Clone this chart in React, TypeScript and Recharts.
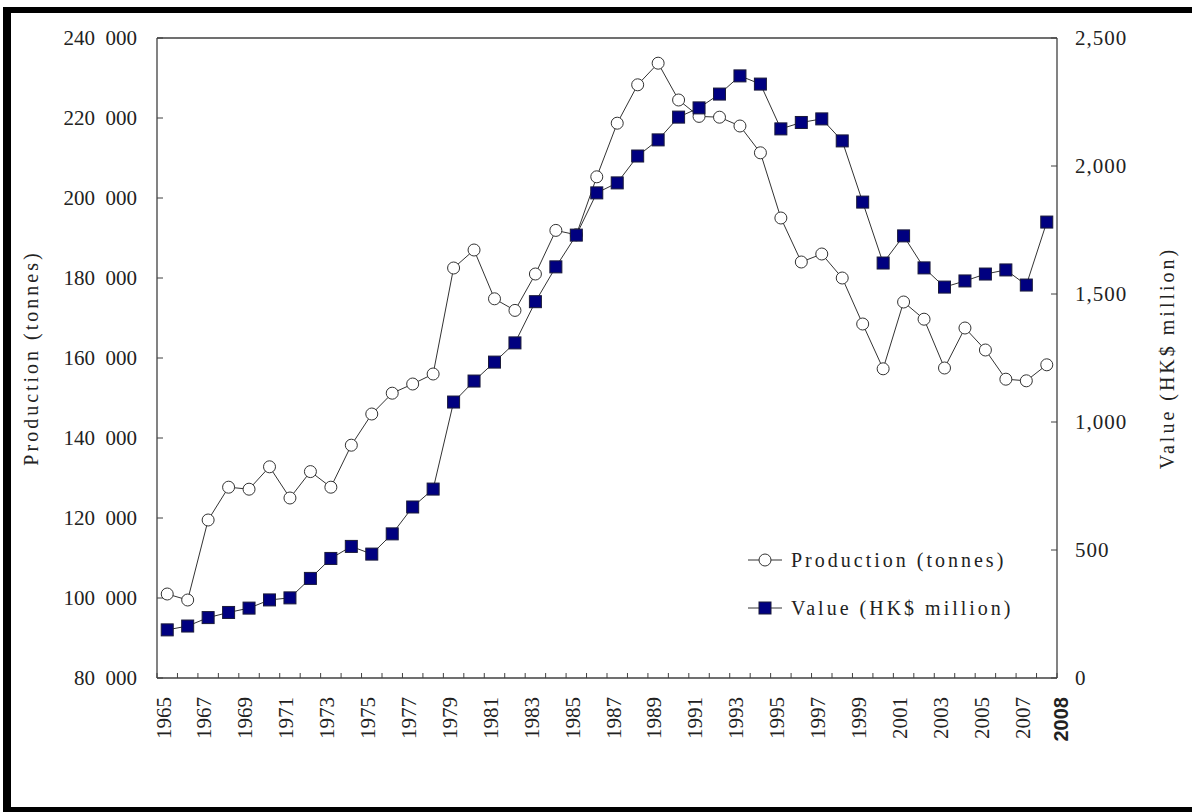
import React from 'react';
import { LineChart, Line, XAxis, YAxis, ReferenceLine } from 'recharts';

// Hong Kong fisheries: production and value, 1965-2008
const years = [
  1965, 1966, 1967, 1968, 1969, 1970, 1971, 1972, 1973, 1974,
  1975, 1976, 1977, 1978, 1979, 1980, 1981, 1982, 1983, 1984,
  1985, 1986, 1987, 1988, 1989, 1990, 1991, 1992, 1993, 1994,
  1995, 1996, 1997, 1998, 1999, 2000, 2001, 2002, 2003, 2004,
  2005, 2006, 2007, 2008,
];

// tonnes
const production = [
  101000, 99500, 119500, 127700, 127200, 132800, 125000, 131600, 127700, 138200,
  146000, 151200, 153500, 156000, 182500, 187000, 174800, 171900, 181000, 191900,
  190800, 205300, 218700, 228300, 233700, 224500, 220400, 220200, 218000, 211300,
  195000, 184000, 186000, 180000, 168500, 157300, 174000, 169700, 157500, 167500,
  162000, 154700, 154300, 158300,
];

// HK$ million
const value = [
  188, 203, 236, 256, 273, 305, 313, 389, 467, 514,
  484, 563, 668, 738, 1078, 1160, 1234, 1309, 1470, 1606,
  1730, 1895, 1934, 2039, 2102, 2191, 2227, 2281, 2352, 2320,
  2145, 2170, 2184, 2098, 1859, 1621, 1727, 1602, 1527, 1551,
  1578, 1594, 1535, 1781,
];

const labelYears = [
  1965, 1967, 1969, 1971, 1973, 1975, 1977, 1979, 1981, 1983, 1985,
  1987, 1989, 1991, 1993, 1995, 1997, 1999, 2001, 2003, 2005, 2007, 2008,
];
const leftTicks = [80000, 100000, 120000, 140000, 160000, 180000, 200000, 220000, 240000];
const rightTicks = [0, 500, 1000, 1500, 2000, 2500];

const data = years.map((year, i) => ({ year, production: production[i], value: value[i] }));

// category boundaries get the small inward tick marks
const boundaries = [...years.map((y) => y - 0.5), years[years.length - 1] + 0.5];
const xTicks = [...boundaries, ...labelYears].sort((a, b) => a - b);

const AXIS = '#404040';
const INK = '#222';
const SERIF = '"Liberation Serif", "DejaVu Serif", serif';
const NAVY = '#000080';

const XTick = (props: any) => {
  const { x, y, payload } = props;
  const v = payload.value;
  if (!Number.isInteger(v)) {
    return <line x1={x} x2={x} y1={y} y2={y - 5} stroke={AXIS} strokeWidth={1} />;
  }
  const last = v === years[years.length - 1];
  const tx = x + (last ? 14 : -4);
  const ty = y + 19;
  return (
    <text
      x={tx}
      y={ty}
      dy="0.35em"
      transform={`rotate(-90 ${tx} ${ty})`}
      textAnchor="end"
      fontFamily={last ? '"Liberation Sans", Arial, sans-serif' : SERIF}
      fontWeight={last ? 'bold' : 'normal'}
      fontSize={last ? 20 : 21}
      fill={INK}
    >
      {v}
    </text>
  );
};

const axisTitle = (text: string, dx: number) => (props: any) => {
  const { x, y, height } = props.viewBox;
  const cx = x + dx;
  const cy = y + height / 2;
  return (
    <text
      x={cx}
      y={cy}
      transform={`rotate(-90 ${cx} ${cy})`}
      textAnchor="middle"
      dominantBaseline="central"
      fontFamily={SERIF}
      fontSize={20}
      letterSpacing={3}
      fill={INK}
    >
      {text}
    </text>
  );
};

const CircleDot = (props: any) => {
  const { cx, cy, index } = props;
  return <circle key={`c${index}`} cx={cx} cy={cy} r={6} fill="#fff" stroke="#333" strokeWidth={1} />;
};

const SquareDot = (props: any) => {
  const { cx, cy, index } = props;
  return <rect key={`s${index}`} x={cx - 6} y={cy - 6} width={12} height={12} fill={NAVY} stroke="#1a1a3a" strokeWidth={1} />;
};

const LegendBox = () => {
  const row = (label: string, marker: React.ReactNode) => (
    <div style={{ display: 'flex', alignItems: 'center', height: 48 }}>
      <svg width={51} height={20} style={{ display: 'block' }}>
        <line x1={8} x2={42} y1={10} y2={10} stroke="#333" strokeWidth={1} />
        {marker}
      </svg>
      <span style={{ fontFamily: SERIF, fontSize: 20, letterSpacing: 3, color: INK, whiteSpace: 'nowrap' }}>
        {label}
      </span>
    </div>
  );
  return (
    <div style={{ position: 'absolute', left: 740, top: 536 }}>
      {row('Production (tonnes)', <circle cx={25} cy={10} r={6} fill="#fff" stroke="#333" />)}
      {row('Value (HK$ million)', <rect x={19} y={4} width={12} height={12} fill={NAVY} stroke="#1a1a3a" />)}
    </div>
  );
};

export default function App() {
  return (
    <div style={{ position: 'relative', width: 1192, height: 812, overflow: 'hidden', background: '#fff' }}>
      <style>{'body{margin:0}'}</style>
      <div
        style={{
          position: 'absolute',
          left: 3,
          top: 7,
          width: 1200,
          height: 806,
          boxSizing: 'border-box',
          borderTop: '6px solid #000',
          borderLeft: '8px solid #000',
          borderBottom: '6px solid #000',
        }}
      />
      <div style={{ position: 'absolute', left: 0, top: 0 }}>
        <LineChart width={1192} height={812} data={data} margin={{ top: 38, right: 0, bottom: 0, left: 0 }}>
          <XAxis
            dataKey="year"
            type="number"
            domain={[1964.5, 2008.5]}
            ticks={xTicks}
            interval={0}
            height={134}
            tickLine={false}
            tickSize={0}
            tickMargin={0}
            tick={<XTick />}
            axisLine={{ stroke: AXIS, strokeWidth: 1.3 }}
          />
          <YAxis
            yAxisId="left"
            orientation="left"
            width={157}
            domain={[80000, 240000]}
            ticks={leftTicks}
            interval={0}
            tickFormatter={(v: number) => `${v / 1000}\u2002000`}
            tickSize={-6}
            tickMargin={26}
            tickLine={{ stroke: AXIS }}
            axisLine={{ stroke: AXIS, strokeWidth: 1.3 }}
            tick={{ fontFamily: SERIF, fontSize: 21, fill: INK }}
            label={axisTitle('Production (tonnes)', 31)}
          />
          <YAxis
            yAxisId="right"
            orientation="right"
            width={135}
            domain={[0, 2500]}
            ticks={rightTicks}
            interval={0}
            tickFormatter={(v: number) => v.toLocaleString('en-US')}
            tickSize={-6}
            tickMargin={24}
            tickLine={{ stroke: AXIS }}
            axisLine={{ stroke: AXIS, strokeWidth: 1.3 }}
            tick={{ fontFamily: SERIF, fontSize: 21, fill: INK, letterSpacing: 1 }}
            label={axisTitle('Value (HK$ million)', 110)}
          />
          <ReferenceLine yAxisId="left" y={240000} stroke={AXIS} strokeWidth={1.3} />
          <Line
            yAxisId="left"
            dataKey="production"
            stroke="#333"
            strokeWidth={1}
            dot={CircleDot}
            activeDot={false}
            isAnimationActive={false}
          />
          <Line
            yAxisId="right"
            dataKey="value"
            stroke="#333"
            strokeWidth={1}
            dot={SquareDot}
            activeDot={false}
            isAnimationActive={false}
          />
        </LineChart>
      </div>
      <LegendBox />
    </div>
  );
}
